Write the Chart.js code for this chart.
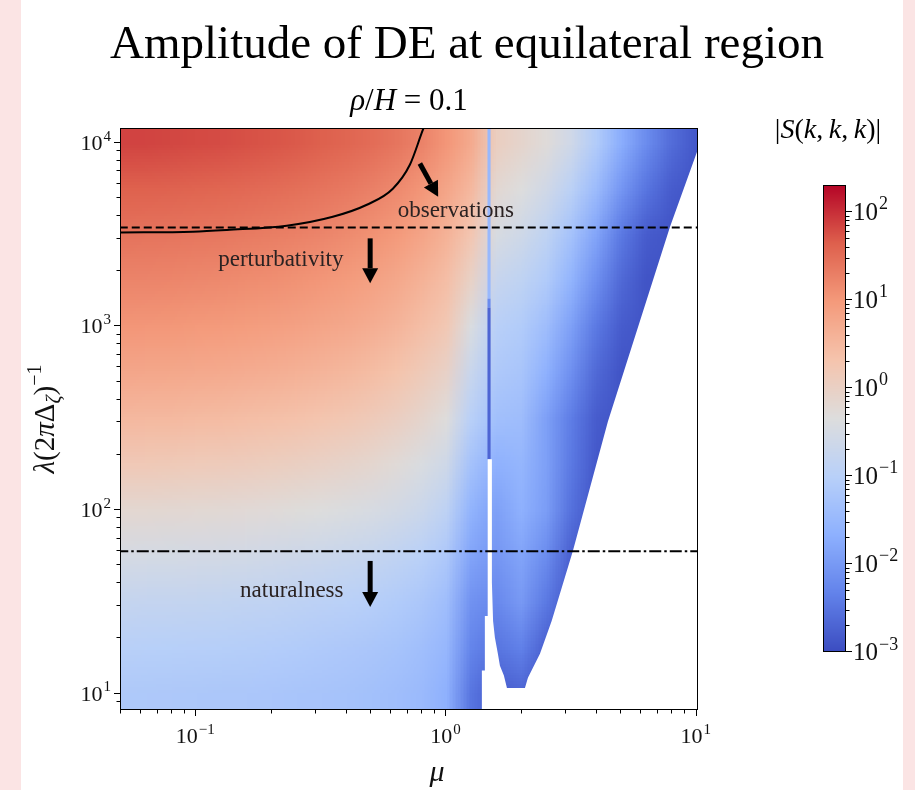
<!DOCTYPE html>
<html>
<head>
<meta charset="utf-8">
<script src="https://cdn.jsdelivr.net/npm/chart.js@4.4.1/dist/chart.umd.min.js"></script>
<style>
  html, body { margin: 0; padding: 0; }
  body { width: 915px; height: 790px; background: #fbe4e4; position: relative; overflow: hidden; }
  #card { position: absolute; left: 21px; top: 0; width: 882px; height: 790px; background: #fff; }
  #main { position: absolute; left: 0; top: 0; }
  #cbar { position: absolute; left: 780px; top: 160px; }
</style>
</head>
<body>
<div id="card"></div>
<canvas id="main" width="915" height="790"></canvas>
<canvas id="cbar" width="135" height="510"></canvas>
<script>
// cell centres of the amplitude map, log10(mu) and log10(lambda)
const muGrid = [-1.3, -1.2, -1.1, -1.0, -0.9, -0.8, -0.7, -0.6, -0.5, -0.4, -0.3, -0.2, -0.1, 0.0, 0.1, 0.2, 0.3, 0.4, 0.5, 0.6, 0.7, 0.8, 0.9, 1.0];
const lamGrid = [4.0, 3.75, 3.5, 3.25, 3.0, 2.75, 2.5, 2.25, 2.0, 1.75, 1.5, 1.25, 1.0];

// log10 |S(k,k,k)|, one row per lamGrid entry (top to bottom)
const ampRows = [
  [1.85, 1.84, 1.82, 1.80, 1.78, 1.75, 1.72, 1.68, 1.63, 1.57, 1.50, 1.40, 1.25, 1.02, 0.72, 0.05, -0.12, -0.3, -0.6, -1.1, -1.7, -2.2, -2.6, -2.85],
  [1.62, 1.61, 1.60, 1.58, 1.56, 1.53, 1.50, 1.46, 1.41, 1.35, 1.27, 1.17, 1.02, 0.80, 0.50, -0.2, -0.35, -0.58, -0.95, -1.45, -2.05, -2.5, -2.8, -2.9],
  [1.42, 1.41, 1.40, 1.38, 1.36, 1.33, 1.30, 1.26, 1.21, 1.15, 1.07, 0.97, 0.82, 0.60, 0.25, -0.45, -0.62, -0.88, -1.3, -1.85, -2.45, -2.8, -2.9, -2.9],
  [1.22, 1.21, 1.20, 1.18, 1.16, 1.13, 1.10, 1.06, 1.01, 0.95, 0.87, 0.76, 0.60, 0.40, -0.05, -0.75, -0.88, -1.12, -1.6, -2.15, -2.65, -2.9, -2.9, -2.9],
  [1.02, 1.01, 1.00, 0.98, 0.96, 0.93, 0.90, 0.86, 0.81, 0.75, 0.67, 0.56, 0.40, 0.22, -0.42, -1.0, -1.1, -1.4, -1.9, -2.45, -2.8, -2.9, -2.9, -2.9],
  [0.78, 0.77, 0.76, 0.74, 0.72, 0.69, 0.66, 0.62, 0.57, 0.51, 0.43, 0.32, 0.16, -0.04, -0.72, -1.15, -1.25, -1.65, -2.15, -2.65, -2.9, -2.9, -2.9, -2.9],
  [0.50, 0.49, 0.48, 0.46, 0.44, 0.41, 0.38, 0.34, 0.29, 0.23, 0.15, 0.04, -0.12, -0.32, -1.0, -1.35, -1.4, -1.9, -2.4, -2.8, -2.9, -2.9, -2.9, -2.9],
  [0.18, 0.17, 0.16, 0.14, 0.12, 0.09, 0.06, 0.02, -0.03, -0.09, -0.16, -0.26, -0.42, -0.62, -1.3, -1.65, -1.55, -1.9, -2.45, -2.85, -2.9, -2.9, -2.9, -2.9],
  [-0.18, -0.19, -0.20, -0.21, -0.23, -0.25, -0.28, -0.31, -0.35, -0.40, -0.46, -0.55, -0.68, -0.9, -1.6, -1.9, -1.65, -1.95, -2.55, -2.9, -2.9, -2.9, -2.9, -2.9],
  [-0.5, -0.51, -0.52, -0.53, -0.55, -0.57, -0.6, -0.63, -0.67, -0.72, -0.78, -0.86, -0.98, -1.17, -1.85, -2.05, -1.85, -2.2, -2.75, -2.9, -2.9, -2.9, -2.9, -2.9],
  [-0.78, -0.79, -0.8, -0.81, -0.83, -0.85, -0.87, -0.9, -0.94, -0.98, -1.03, -1.1, -1.2, -1.38, -2.1, -2.25, -2.0, -2.45, -2.85, -2.9, -2.9, -2.9, -2.9, -2.9],
  [-1.0, -1.01, -1.02, -1.03, -1.04, -1.06, -1.08, -1.1, -1.13, -1.17, -1.21, -1.27, -1.36, -1.52, -2.3, -2.5, -2.35, -2.75, -2.9, -2.9, -2.9, -2.9, -2.9, -2.9],
  [-1.15, -1.16, -1.17, -1.18, -1.19, -1.2, -1.22, -1.24, -1.26, -1.29, -1.33, -1.38, -1.46, -1.65, -2.5, -2.8, -2.7, -2.9, -2.9, -2.9, -2.9, -2.9, -2.9, -2.9]
];

// the thin resonance line near mu ~ 1.5
const lineMu = [1.472, 1.515];
const lineLam = [12000, 1400, 1250, 187];
const lineAmp = [-1.5, -2.2, -2.7];

// region with no data (drawn white)
const maskMu = [11, 11, 10.13, 7.90, 4.46, 3.23, 2.657, 2.386, 2.136, 2.078, 1.761, 1.712, 1.651, 1.62, 1.576, 1.55, 1.533, 1.533, 1.475, 1.475, 1.437, 1.437, 1.398, 1.398];
const maskLam = [7, 8830, 8830, 3450, 300, 59.1, 24.6, 16.3, 12.07, 10.6, 10.6, 12.4, 14.0, 16.3, 20, 24.6, 40, 187, 187, 26.2, 26.2, 13.2, 13.2, 7];

// constraint curves
const obsMu = [0.05, 0.0978, 0.1337, 0.232, 0.3544, 0.485, 0.616, 0.7205, 0.812, 0.83];
const obsLam = [3213, 3243, 3313, 3494, 3908, 4545, 5558, 7502, 11610, 12500];
const pertLam = 3420;
const natLam = 59;

const arrowFromMu = [0.79, 0.5, 0.5];
const arrowFromLam = [7620, 2982, 52.2];
const arrowToMu = [0.935, 0.5, 0.5];
const arrowToLam = [5023, 1700, 29.3];

const noteText = ['observations', 'perturbativity', 'naturalness'];
const noteMu = [1.10, 0.2197, 0.243];
const noteLam = [4218, 2287, 35.8];

const xTickVals = [0.1, 1, 10];
const xTickExp = ['\u22121', '0', '1'];
const yTickVals = [10, 100, 1000, 10000];
const yTickExp = ['1', '2', '3', '4'];
const cbTickVals = [0.001, 0.01, 0.1, 1, 10, 100];
const cbTickExp = ['\u22123', '\u22122', '\u22121', '0', '1', '2'];
const cbLo = 0.001, cbHi = 200;

const cwStops = [[59, 76, 192], [98, 130, 234], [141, 176, 254], [184, 208, 249], [221, 221, 221],
                 [245, 196, 173], [244, 154, 123], [222, 96, 77], [180, 4, 38]];

function coolwarm(v) {
  let t = (v - Math.log10(cbLo)) / (Math.log10(cbHi) - Math.log10(cbLo));
  t = Math.max(0, Math.min(1, t));
  const s = t * (cwStops.length - 1);
  const i = Math.min(Math.floor(s), cwStops.length - 2);
  const f = s - i;
  return cwStops[i].map((c, k) => Math.round(c + (cwStops[i + 1][k] - c) * f));
}

function minorTicks(lo, hi) {
  const out = [];
  for (let e = -4; e <= 5; e++) {
    for (let m = 2; m <= 9; m++) {
      const v = m * Math.pow(10, e);
      if (v >= lo * 0.999 && v < hi) out.push(v);
    }
  }
  return out;
}

const SERIF = '"Liberation Serif", "DejaVu Serif", serif';

function drawPow(ctx, exp, x, y, align, size) {
  ctx.font = size + 'px ' + SERIF;
  const wb = ctx.measureText('10').width;
  const es = Math.round(size * 0.7);
  ctx.font = es + 'px ' + SERIF;
  const we = ctx.measureText(exp).width;
  const total = wb + 1 + we;
  const sx = align === 'center' ? x - total / 2 : align === 'right' ? x - total : x;
  ctx.textAlign = 'left';
  ctx.textBaseline = 'alphabetic';
  ctx.font = size + 'px ' + SERIF;
  ctx.fillText('10', sx, y);
  ctx.font = es + 'px ' + SERIF;
  ctx.fillText(exp, sx + wb + 1, y - size * 0.42);
}

// parts: [text, 'n' normal | 'i' italic | 's' superscript | 'b' italic subscript]
function drawRich(ctx, parts, x, y, size) {
  const small = Math.round(size * 0.7);
  const fontOf = st => (st === 'i' || st === 'b' ? 'italic ' : '') + (st === 's' || st === 'b' ? small : size) + 'px ' + SERIF;
  let total = 0;
  const widths = parts.map(([t, st]) => { ctx.font = fontOf(st); const w = ctx.measureText(t).width; total += w; return w; });
  let cx = x - total / 2;
  ctx.textAlign = 'left';
  ctx.textBaseline = 'alphabetic';
  parts.forEach(([t, st], i) => {
    ctx.font = fontOf(st);
    const dy = st === 's' ? -size * 0.45 : st === 'b' ? size * 0.22 : 0;
    ctx.fillText(t, cx, y + dy);
    cx += widths[i];
  });
}

function drawArrow(ctx, x1, y1, x2, y2) {
  const ang = Math.atan2(y2 - y1, x2 - x1), hl = 15, hw = 8;
  const bx = x2 - hl * Math.cos(ang), by = y2 - hl * Math.sin(ang);
  ctx.lineWidth = 5;
  ctx.beginPath(); ctx.moveTo(x1, y1); ctx.lineTo(bx, by); ctx.stroke();
  ctx.beginPath();
  ctx.moveTo(x2, y2);
  ctx.lineTo(bx + hw * Math.sin(ang), by - hw * Math.cos(ang));
  ctx.lineTo(bx - hw * Math.sin(ang), by + hw * Math.cos(ang));
  ctx.closePath(); ctx.fill();
}

const heatmapPlugin = {
  id: 'heatmap',
  beforeDatasetsDraw(chart) {
    const { ctx, chartArea: a, scales: { x, y } } = chart;
    ctx.save();
    ctx.beginPath(); ctx.rect(a.left, a.top, a.width, a.height); ctx.clip();

    const nc = muGrid.length, nr = lamGrid.length;
    const off = document.createElement('canvas');
    off.width = nc; off.height = nr;
    const octx = off.getContext('2d');
    const img = octx.createImageData(nc, nr);
    ampRows.forEach((row, r) => row.forEach((v, c) => {
      const col = coolwarm(v), k = (r * nc + c) * 4;
      img.data[k] = col[0]; img.data[k + 1] = col[1]; img.data[k + 2] = col[2]; img.data[k + 3] = 255;
    }));
    octx.putImageData(img, 0, 0);
    const hx = (muGrid[1] - muGrid[0]) / 2, hy = (lamGrid[0] - lamGrid[1]) / 2;
    const x0 = x.getPixelForValue(Math.pow(10, muGrid[0] - hx));
    const x1 = x.getPixelForValue(Math.pow(10, muGrid[nc - 1] + hx));
    const y0 = y.getPixelForValue(Math.pow(10, lamGrid[0] + hy));
    const y1 = y.getPixelForValue(Math.pow(10, lamGrid[nr - 1] - hy));
    ctx.imageSmoothingEnabled = true;
    ctx.drawImage(off, x0, y0, x1 - x0, y1 - y0);

    // resonance line
    const lx0 = x.getPixelForValue(lineMu[0]), lx1 = x.getPixelForValue(lineMu[1]);
    lineAmp.forEach((v, i) => {
      const ya = y.getPixelForValue(lineLam[i]), yb = y.getPixelForValue(lineLam[i + 1]);
      const col = coolwarm(v);
      ctx.fillStyle = `rgb(${col[0]},${col[1]},${col[2]})`;
      ctx.fillRect(lx0, ya, lx1 - lx0, yb - ya);
    });

    // no-data area
    ctx.fillStyle = '#ffffff';
    ctx.beginPath();
    maskMu.forEach((m, i) => {
      const px = x.getPixelForValue(m), py = y.getPixelForValue(maskLam[i]);
      if (i === 0) ctx.moveTo(px, py); else ctx.lineTo(px, py);
    });
    ctx.closePath(); ctx.fill();
    ctx.restore();
  },
  afterDatasetsDraw(chart) {
    const { ctx, scales: { x, y } } = chart;
    ctx.save();
    ctx.fillStyle = '#000'; ctx.strokeStyle = '#000';
    arrowFromMu.forEach((m, i) => {
      drawArrow(ctx, x.getPixelForValue(m), y.getPixelForValue(arrowFromLam[i]),
        x.getPixelForValue(arrowToMu[i]), y.getPixelForValue(arrowToLam[i]));
    });
    ctx.fillStyle = '#2a2222';
    ctx.font = '23px ' + SERIF;
    ctx.textAlign = 'center'; ctx.textBaseline = 'middle';
    noteText.forEach((t, i) => ctx.fillText(t, x.getPixelForValue(noteMu[i]), y.getPixelForValue(noteLam[i])));
    ctx.restore();
  },
  afterDraw(chart) {
    const { ctx, chartArea: a, scales: { x, y } } = chart;
    ctx.save();
    ctx.strokeStyle = '#000'; ctx.fillStyle = '#000'; ctx.lineWidth = 1;
    ctx.strokeRect(a.left + 0.5, a.top + 0.5, a.width - 1, a.height - 1);
    ctx.beginPath();
    xTickVals.forEach(v => { const p = Math.round(x.getPixelForValue(v)) + 0.5; ctx.moveTo(p, a.bottom); ctx.lineTo(p, a.bottom + 6); });
    minorTicks(x.min, x.max).forEach(v => { const p = Math.round(x.getPixelForValue(v)) + 0.5; ctx.moveTo(p, a.bottom); ctx.lineTo(p, a.bottom + 3.5); });
    yTickVals.forEach(v => { const p = Math.round(y.getPixelForValue(v)) + 0.5; ctx.moveTo(a.left, p); ctx.lineTo(a.left - 6, p); });
    minorTicks(y.min, y.max).forEach(v => { const p = Math.round(y.getPixelForValue(v)) + 0.5; ctx.moveTo(a.left, p); ctx.lineTo(a.left - 3.5, p); });
    ctx.stroke();

    ctx.fillStyle = '#111';
    xTickVals.forEach((v, i) => drawPow(ctx, xTickExp[i], x.getPixelForValue(v), a.bottom + 33, 'center', 22));
    yTickVals.forEach((v, i) => drawPow(ctx, yTickExp[i], a.left - 9, y.getPixelForValue(v) + 8, 'right', 22));

    // axis titles
    drawRich(ctx, [['\u03bc', 'i']], (a.left + a.right) / 2 + 28, 781, 30);
    ctx.save();
    ctx.translate(46, 419);
    ctx.rotate(-Math.PI / 2);
    drawRich(ctx, [['\u03bb', 'i'], ['(2', 'n'], ['\u03c0', 'i'], ['\u0394', 'n'], ['\u03b6', 'b'], [')', 'n'], ['\u22121', 's']], 0, 8, 29);
    ctx.restore();

    // titles
    ctx.fillStyle = '#000';
    ctx.font = '47px ' + SERIF;
    ctx.textAlign = 'center'; ctx.textBaseline = 'alphabetic';
    ctx.fillText('Amplitude of DE at equilateral region', 467, 58);
    drawRich(ctx, [['\u03c1', 'i'], ['/', 'n'], ['H', 'i'], ['\u2005=\u20050.1', 'n']], (a.left + a.right) / 2, 110, 31);
    drawRich(ctx, [['|', 'n'], ['S', 'i'], ['(', 'n'], ['k', 'i'], [',\u2009', 'n'], ['k', 'i'], [',\u2009', 'n'], ['k', 'i'], [')|', 'n']], 828, 138, 28);
    ctx.restore();
  }
};

const toPts = (mus, lams) => mus.map((m, i) => ({ x: m, y: lams[i] }));

new Chart(document.getElementById('main'), {
  type: 'scatter',
  data: {
    datasets: [
      { label: 'observations', data: toPts(obsMu, obsLam), showLine: true, borderColor: '#000', borderWidth: 2,
        pointRadius: 0, cubicInterpolationMode: 'monotone' },
      { label: 'perturbativity', data: toPts([0.04, 11], [pertLam, pertLam]), showLine: true, borderColor: '#000',
        borderWidth: 2, borderDash: [8, 4], pointRadius: 0 },
      { label: 'naturalness', data: toPts([0.04, 11], [natLam, natLam]), showLine: true, borderColor: '#000',
        borderWidth: 2, borderDash: [12, 3, 2.5, 3], pointRadius: 0 }
    ]
  },
  options: {
    responsive: false,
    animation: false,
    layout: { padding: { left: 120, right: 217, top: 128, bottom: 80 } },
    plugins: { legend: { display: false }, tooltip: { enabled: false } },
    scales: {
      x: { type: 'logarithmic', min: 0.05, max: 10.22, ticks: { display: false }, grid: { display: false },
           border: { display: false }, afterFit(s) { s.height = 0; } },
      y: { type: 'logarithmic', min: 8.05, max: 11900, ticks: { display: false }, grid: { display: false },
           border: { display: false }, afterFit(s) { s.width = 0; } }
    }
  },
  plugins: [heatmapPlugin]
});

const colorbarPlugin = {
  id: 'colorbar',
  beforeDatasetsDraw(chart) {
    const { ctx, chartArea: a, scales: { y } } = chart;
    ctx.save();
    for (let py = Math.floor(a.top); py < a.bottom; py++) {
      const col = coolwarm(Math.log10(y.getValueForPixel(py + 0.5)));
      ctx.fillStyle = `rgb(${col[0]},${col[1]},${col[2]})`;
      ctx.fillRect(a.left, py, a.width, 1);
    }
    ctx.strokeStyle = '#000'; ctx.lineWidth = 1;
    ctx.strokeRect(a.left + 0.5, a.top + 0.5, a.width - 1, a.height - 1);
    ctx.beginPath();
    cbTickVals.forEach(v => { const p = Math.round(y.getPixelForValue(v)) - 0.5; ctx.moveTo(a.right, p); ctx.lineTo(a.right + 6, p); });
    minorTicks(cbLo, cbHi).forEach(v => { const p = Math.round(y.getPixelForValue(v)) + 0.5; ctx.moveTo(a.right, p); ctx.lineTo(a.right + 3.5, p); });
    ctx.stroke();
    ctx.fillStyle = '#111';
    cbTickVals.forEach((v, i) => drawPow(ctx, cbTickExp[i], a.right + 7, y.getPixelForValue(v) + 8, 'left', 25));
    ctx.restore();
  }
};

new Chart(document.getElementById('cbar'), {
  type: 'scatter',
  data: { datasets: [] },
  options: {
    responsive: false,
    animation: false,
    layout: { padding: { left: 43, right: 69, top: 25, bottom: 18 } },
    plugins: { legend: { display: false }, tooltip: { enabled: false } },
    scales: {
      x: { display: false, min: 0, max: 1 },
      y: { type: 'logarithmic', min: cbLo, max: cbHi, ticks: { display: false }, grid: { display: false },
           border: { display: false }, afterFit(s) { s.width = 0; } }
    }
  },
  plugins: [colorbarPlugin]
});
</script>
</body>
</html>
